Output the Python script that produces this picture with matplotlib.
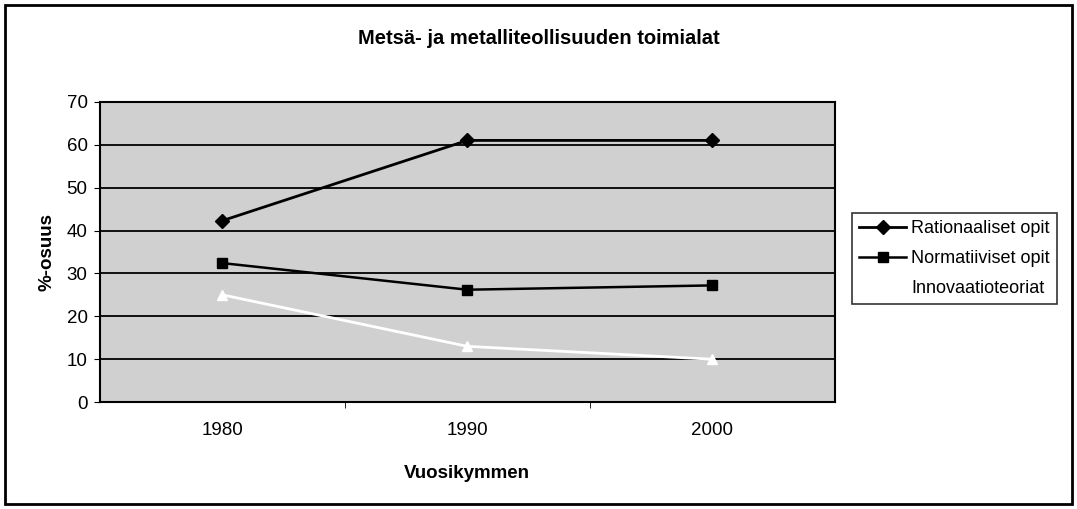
import matplotlib.pyplot as plt
from matplotlib.patches import Rectangle

plt.rcParams["font.family"] = ["Liberation Sans", "DejaVu Sans"]

# Data
decades = ["1980", "1990", "2000"]
rationaaliset = [42.3, 61.0, 61.0]
normatiiviset = [32.4, 26.2, 27.2]
innovaatio = [25.0, 13.0, 10.0]

fig = plt.figure(figsize=(10.77, 5.09), dpi=100)
ax = fig.add_axes([0.0929, 0.210, 0.682, 0.590])

# Gray plot area with black horizontal gridlines
ax.set_facecolor("#d0d0d0")
x = range(len(decades))

ax.plot(x, rationaaliset, color="black", lw=2, marker="D", ms=7,
        label="Rationaaliset opit", zorder=4)
ax.plot(x, normatiiviset, color="black", lw=1.8, marker="s", ms=7,
        label="Normatiiviset opit", zorder=4)
ax.plot(x, innovaatio, color="white", lw=2, marker="^", ms=7,
        markeredgecolor="white", label="Innovaatioteoriat", zorder=3)

ax.set_xlim(-0.5, 2.5)
ax.set_ylim(0, 70)
ax.set_yticks(range(0, 71, 10))
ax.set_xticks(list(x))
ax.set_xticklabels(decades)
ax.set_xticks([0.5, 1.5], minor=True)
ax.tick_params(axis="x", which="major", length=0, pad=14, labelsize=13.5)
ax.tick_params(axis="x", which="minor", length=4, direction="out")
ax.tick_params(axis="y", length=4, direction="out", labelsize=13.5, pad=5)
ax.grid(axis="y", color="black", lw=1.3)
ax.set_axisbelow(True)
for s in ax.spines.values():
    s.set_linewidth(1.5)

ax.set_xlabel("Vuosikymmen", fontsize=13.5, fontweight="bold", labelpad=19)
ax.set_ylabel("%-osuus", fontsize=13.5, fontweight="bold", labelpad=8)
fig.text(0.5, 0.925, "Metsä- ja metalliteollisuuden toimialat",
         ha="center", va="center", fontsize=14.5, fontweight="bold")

leg = fig.legend(loc="upper left", bbox_to_anchor=(0.791, 0.581),
                 borderaxespad=0, fontsize=13, frameon=True, fancybox=False,
                 handlelength=2.6, borderpad=0.4, labelspacing=0.7,
                 handletextpad=0.3)
leg.get_frame().set_edgecolor("black")
leg.get_frame().set_linewidth(1.2)

# Outer chart border
fig.patches.append(Rectangle((0.005, 0.01), 0.99, 0.98, transform=fig.transFigure,
                             fill=False, edgecolor="black", lw=2))

fig.savefig("out.png", dpi=100)
